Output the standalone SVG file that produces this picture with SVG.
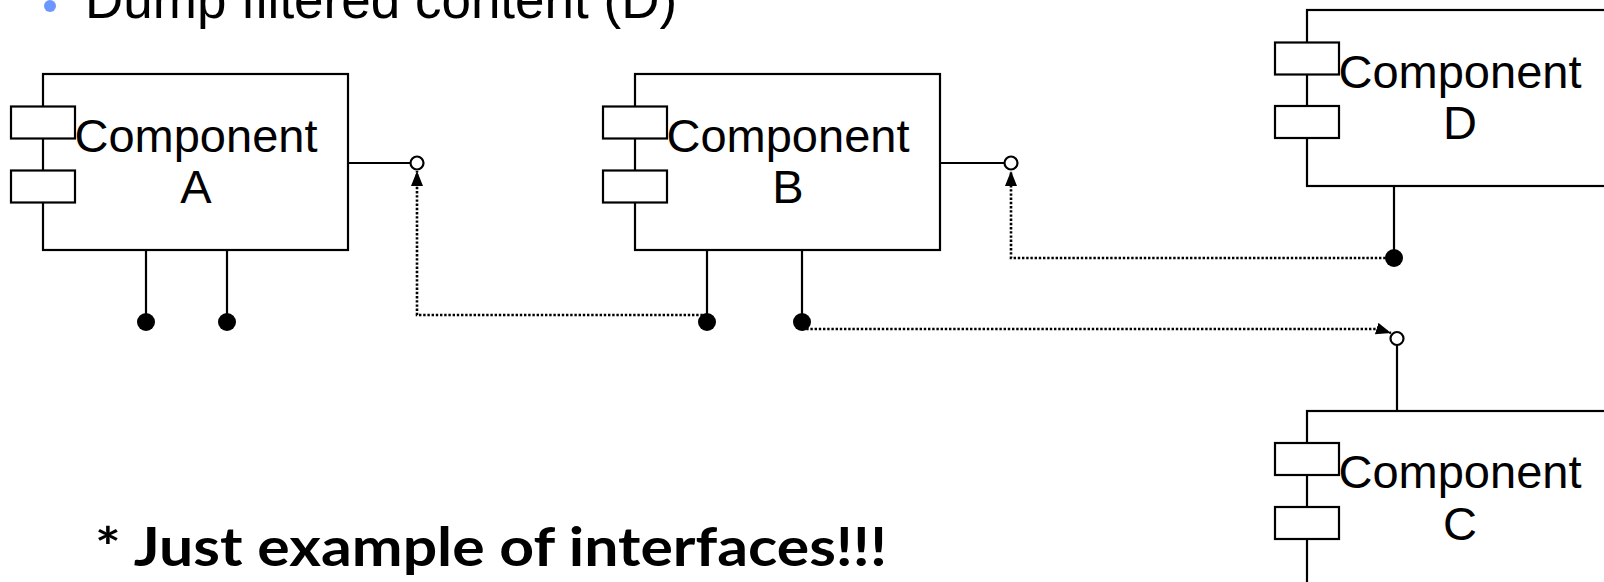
<svg xmlns="http://www.w3.org/2000/svg" width="1604" height="582" viewBox="0 0 1604 582">
<style>
.box{fill:#fff;stroke:#000;stroke-width:2.2}
.sm{fill:#fff;stroke:#000;stroke-width:2.2}
.lbl{font-family:"Liberation Sans",Arial,sans-serif;font-size:47px;fill:#000;text-anchor:middle}
.port{stroke:#000;stroke-width:2.2;fill:none}
.lol{fill:#fff;stroke:#000;stroke-width:2.2}
.dot{fill:#000}
.dep{fill:none;stroke:#000;stroke-width:2.6;stroke-dasharray:2.4 1.8}
</style>
<defs>
<marker id="arr" markerUnits="userSpaceOnUse" markerWidth="15" markerHeight="12" refX="15" refY="6" orient="auto">
<path d="M0,0 L15,6 L0,12 z" fill="#000"/>
</marker>
</defs>
<rect width="1604" height="582" fill="#fff"/>
<g id="title">
<circle cx="50" cy="6" r="6" fill="#6b97ff"/>
<text x="85" y="18" font-family="Liberation Sans,Arial,sans-serif" font-size="53" fill="#000">Dump filtered content (D)</text>
</g>
<g id="compA">
<rect class="box" x="43" y="74" width="305" height="176"/>
<rect class="sm" x="11" y="106.5" width="64" height="32"/>
<rect class="sm" x="11" y="170.5" width="64" height="32"/>
<text class="lbl" x="196" y="152">Component</text>
<text class="lbl" x="196" y="203">A</text>
<line class="port" x1="348" y1="163" x2="410" y2="163"/>
<circle class="lol" cx="417" cy="163" r="6.5"/>
<line class="port" x1="146" y1="250" x2="146" y2="320"/>
<circle class="dot" cx="146" cy="322" r="9"/>
<line class="port" x1="227" y1="250" x2="227" y2="320"/>
<circle class="dot" cx="227" cy="322" r="9"/>
</g>
<g id="compB">
<rect class="box" x="635" y="74" width="305" height="176"/>
<rect class="sm" x="603" y="106.5" width="64" height="32"/>
<rect class="sm" x="603" y="170.5" width="64" height="32"/>
<text class="lbl" x="788" y="152">Component</text>
<text class="lbl" x="788" y="203">B</text>
<line class="port" x1="940" y1="163" x2="1004" y2="163"/>
<circle class="lol" cx="1011" cy="163" r="6.5"/>
<line class="port" x1="707" y1="250" x2="707" y2="320"/>
<circle class="dot" cx="707" cy="322" r="9"/>
<line class="port" x1="802" y1="250" x2="802" y2="320"/>
<circle class="dot" cx="802" cy="322" r="9"/>
</g>
<g id="compD">
<rect class="box" x="1307" y="10" width="305" height="176"/>
<rect class="sm" x="1275" y="42.5" width="64" height="32"/>
<rect class="sm" x="1275" y="106" width="64" height="32"/>
<text class="lbl" x="1460" y="88">Component</text>
<text class="lbl" x="1460" y="139">D</text>
<line class="port" x1="1394" y1="186" x2="1394" y2="256"/>
<circle class="dot" cx="1394" cy="258" r="9"/>
</g>
<g id="compC">
<rect class="box" x="1307" y="411" width="305" height="176"/>
<rect class="sm" x="1275" y="443" width="64" height="32"/>
<rect class="sm" x="1275" y="507" width="64" height="32"/>
<text class="lbl" x="1460" y="488">Component</text>
<text class="lbl" x="1460" y="540">C</text>
<line class="port" x1="1397" y1="411" x2="1397" y2="345"/>
<circle class="lol" cx="1397" cy="338.5" r="6.5"/>
</g>
<g id="connectors">
<polyline class="dep" points="707,315 417,315 417,171" marker-end="url(#arr)"/>
<polyline class="dep" points="1394,258 1011,258 1011,171" marker-end="url(#arr)"/>
<polyline class="dep" points="802,329 1378,329 1391,333" marker-end="url(#arr)"/>
</g>
<g id="note">
<text x="95" y="566" font-family="Lato,'DejaVu Sans',sans-serif" font-weight="bold" font-size="54" textLength="792" lengthAdjust="spacingAndGlyphs" fill="#000">* Just example of interfaces!!!</text>
</g>
</svg>
